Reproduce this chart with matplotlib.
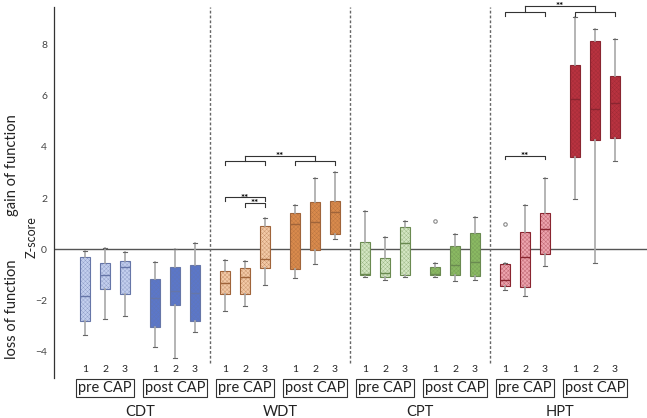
import numpy as np
import matplotlib
matplotlib.use("Agg")
import matplotlib.pyplot as plt

plt.rcParams['font.family'] = ['Lato', 'DejaVu Sans']
plt.rcParams['hatch.linewidth'] = 0.15

# data ------------------------------------------------------------------
tests = ['CDT', 'WDT', 'CPT', 'HPT']
groups = ['pre CAP', 'post CAP']
visits = ['1', '2', '3']

# per box: whisker low, q1, median, q3, whisker high  (order: pre1..3, post1..3)
cdt_stats = [[-3.35, -2.80, -1.82, -0.30, -0.07],
             [-2.73, -1.54, -1.02, -0.52, 0.04],
             [-2.59, -1.75, -0.70, -0.47, -0.12],
             [-3.80, -3.03, -1.91, -1.15, -0.51],
             [-4.26, -2.18, -1.64, -0.70, 0.00],
             [-3.24, -2.79, -1.72, -0.60, 0.23]]
wdt_stats = [[-2.42, -1.76, -1.33, -0.87, -0.42],
             [-2.21, -1.76, -1.07, -0.74, -0.45],
             [-1.38, -0.73, -0.38, 0.92, 1.21],
             [-1.13, -0.77, 0.99, 1.41, 1.72],
             [-0.59, -0.05, 1.07, 1.86, 2.77],
             [0.39, 0.59, 1.46, 1.90, 3.03]]
cpt_stats = [[-1.08, -1.02, -0.98, 0.27, 1.51],
             [-1.19, -1.07, -0.94, -0.35, 0.47],
             [-1.08, -1.02, 0.23, 0.86, 1.12],
             [-1.08, -1.02, -0.98, -0.68, -0.55],
             [-1.25, -1.02, -0.62, 0.13, 0.61],
             [-1.20, -1.03, -0.51, 0.62, 1.26]]
hpt_stats = [[-1.59, -1.42, -1.20, -0.57, -0.55],
             [-1.84, -1.46, -0.31, 0.68, 1.72],
             [-0.66, -0.20, 0.78, 1.41, 2.77],
             [1.95, 3.62, 5.86, 7.20, 9.06],
             [-0.52, 4.26, 5.47, 8.14, 8.59],
             [3.44, 4.34, 5.70, 6.78, 8.20]]
all_stats = [cdt_stats, wdt_stats, cpt_stats, hpt_stats]

# outliers: (test, box index, value)
outliers = [(2, 3, 1.10), (3, 0, 0.98)]

pre_colors = ['#c3cfee', '#f3c9a6', '#d3e6c2', '#eda3ad']
post_colors = ['#5b77c9', '#d98a4c', '#8ab962', '#b8323f']
edge_colors = ['#6676a8', '#a0643a', '#6a8a50', '#8a2530']

# significance brackets (in box index units inside a test)
sig_pairs = {1: [(0, 2, 2.02), (1, 2, 1.80)], 3: [(0, 2, 3.66)]}
sig_groups = {1: (3.45, 3.64), 3: (9.26, 9.50)}

# -----------------------------------------------------------------------
fig = plt.figure(figsize=(6.47, 4.18), dpi=100)
ax = fig.add_axes([54 / 647, 1 - 378 / 418, 1 - 54 / 647, (378 - 7) / 418])

offsets = np.array([0, 1, 2, 3.5, 4.5, 5.5])

for t, stats in enumerate(all_stats):
    pos = 7 * t + offsets
    bxstats = []
    for i, (lo, q1, med, q3, hi) in enumerate(stats):
        fl = [v for (tt, bi, v) in outliers if tt == t and bi == i]
        bxstats.append(dict(whislo=lo, q1=q1, med=med, q3=q3, whishi=hi, fliers=fl))
    bp = ax.bxp(bxstats, positions=pos, widths=0.47, patch_artist=True,
                showcaps=True,
                whiskerprops=dict(color='#a8a8a8', lw=1.2),
                capprops=dict(color='#666666', lw=0.8),
                medianprops=dict(color=edge_colors[t], lw=1.0),
                flierprops=dict(marker='o', ms=2.5, mfc='none', mec='#888888', mew=0.8))
    for cap in bp['caps']:
        x0, x1 = cap.get_xdata()
        c = (x0 + x1) / 2
        cap.set_xdata([c - 0.08, c + 0.08])
    for i, box in enumerate(bp['boxes']):
        fc = pre_colors[t] if i < 3 else post_colors[t]
        box.set_facecolor(fc)
        box.set_edgecolor(edge_colors[t])
        box.set_linewidth(0.8)
        box.set_hatch('xxxxxxxx')

    # numbers and group boxes
    for i, p in enumerate(pos):
        ax.text(p, 0.024, visits[i % 3], transform=ax.get_xaxis_transform(),
                ha='center', va='center', fontsize=7.5, color='#222222')
    for g in range(2):
        ctr = pos[3 * g + 1]
        ax.text(ctr, -0.027, groups[g], transform=ax.get_xaxis_transform(),
                ha='center', va='center', fontsize=10.5, color='#222222',
                bbox=dict(boxstyle='square,pad=0.15', fc='white', ec='#333333', lw=0.8))
    ax.text(7 * t + 2.75, -0.092, tests[t], transform=ax.get_xaxis_transform(),
            ha='center', va='center', fontsize=10.5, color='#222222')

    # brackets
    for a, b, y in sig_pairs.get(t, []):
        xa, xb = pos[a], pos[b]
        ax.plot([xa, xa, xb, xb], [y - 0.15, y, y, y - 0.15], color='#333333', lw=0.8, clip_on=False)
        ax.text((xa + xb) / 2, y - 0.12, '**', ha='center', va='baseline', fontsize=7, fontweight='bold')
    if t in sig_groups:
        ys, yc = sig_groups[t]
        for g in range(2):
            xa, xm, xb = pos[3 * g], pos[3 * g + 1], pos[3 * g + 2]
            ax.plot([xa, xa, xb, xb], [ys - 0.15, ys, ys, ys - 0.15], color='#333333', lw=0.8, clip_on=False)
            ax.plot([xm, xm], [ys, yc], color='#333333', lw=0.8, clip_on=False)
        ax.plot([pos[1], pos[4]], [yc, yc], color='#333333', lw=0.8, clip_on=False)
        ax.text((pos[1] + pos[4]) / 2, yc - 0.12, '**', ha='center', va='baseline',
                fontsize=7, fontweight='bold', clip_on=False)

for t in range(3):
    ax.plot([7 * t + 6.25] * 2, [-4.45, 9.46], color='#666666', lw=1.0, ls=(0, (2, 1.5)), clip_on=False)

ax.axhline(0, color='#555555', lw=1.0, zorder=0.5)

ax.set_xlim(-1.55, 28.1)
ax.set_ylim(-5.03, 9.46)
ax.set_yticks([-4, -2, 0, 2, 4, 6, 8])
ax.tick_params(axis='y', length=0, labelsize=7.5, labelcolor='#444444', pad=5)
ax.set_xticks([])
for s in ['top', 'right', 'bottom']:
    ax.spines[s].set_visible(False)
ax.spines['left'].set_color('#333333')
ax.spines['left'].set_linewidth(0.9)

fig.text(12 / 647, 1 - 165 / 418, 'gain of function', rotation=90, ha='center', va='center', fontsize=10.5, color='#222222')
fig.text(12 / 647, 1 - 309 / 418, 'loss of function', rotation=90, ha='center', va='center', fontsize=10.5, color='#222222')
fig.text(32 / 647, 1 - 237 / 418, 'Z-score', rotation=90, ha='center', va='center', fontsize=9, color='#222222')

fig.savefig('out.png', dpi=100)
